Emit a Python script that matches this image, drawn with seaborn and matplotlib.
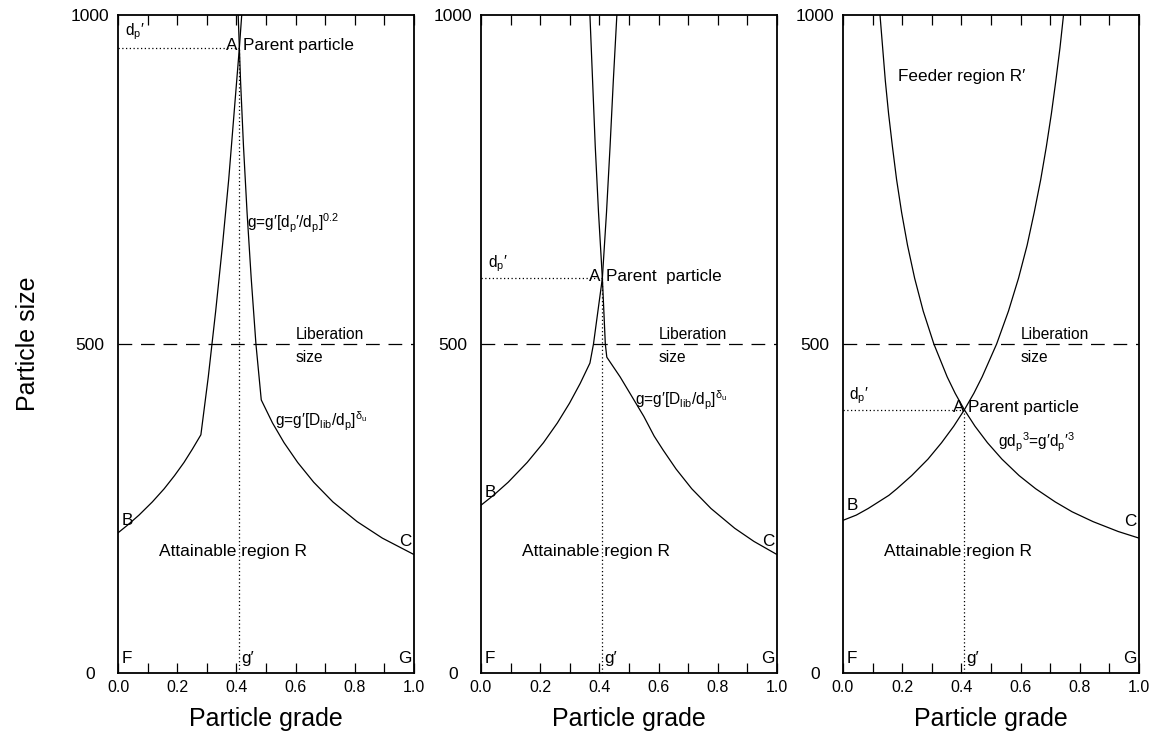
import matplotlib
matplotlib.use("Agg")
import matplotlib.pyplot as plt
import seaborn as sns
import numpy as np

sns.set_style("white")
plt.rcParams['font.family'] = ['Liberation Sans', 'DejaVu Sans']
plt.rcParams['mathtext.default'] = 'regular'
plt.rcParams['mathtext.fontset'] = 'custom'
plt.rcParams['mathtext.rm'] = 'Liberation Sans'
for k in ['text.color', 'axes.labelcolor', 'xtick.color', 'ytick.color', 'axes.edgecolor']:
    plt.rcParams[k] = 'black'

# ---------------- data ----------------
x_ticks = [0.0, 0.2, 0.4, 0.6, 0.8, 1.0]
x_tick_labels = ["0.0", "0.2", "0.4", "0.6", "0.8", "1.0"]
y_ticks = [0, 500, 1000]
y_tick_labels = ["0", "500", "1000"]
liberation_size = 500

# panel 1
p1_g_prime = 0.41
p1_dp_prime = 950
p1_left_dp = [1000, 950, 850, 750, 650, 550, 450, 362, 340, 320, 300, 280, 260, 240, 225, 213]
p1_left_g = [0.418, 0.410, 0.392, 0.374, 0.353, 0.330, 0.305, 0.280, 0.251, 0.223, 0.191,
             0.156, 0.116, 0.071, 0.033, 0.0]
p1_right_dp = [1000, 950, 900, 800, 700, 600, 500, 415, 380, 350, 320, 290, 260, 230, 205, 180]
p1_right_g = [0.406, 0.410, 0.414, 0.424, 0.436, 0.450, 0.466, 0.484, 0.522, 0.561, 0.607,
              0.661, 0.726, 0.808, 0.893, 1.0]

# panel 2
p2_g_prime = 0.41
p2_dp_prime = 600
p2_left_dp = [1000, 900, 800, 700, 600, 500, 471, 440, 410, 380, 350, 320, 290, 270, 255]
p2_left_g = [0.459, 0.447, 0.436, 0.424, 0.410, 0.380, 0.368, 0.335, 0.299, 0.258, 0.211,
             0.156, 0.092, 0.042, 0.0]
p2_right_dp = [1000, 900, 800, 700, 600, 500, 480, 450, 420, 390, 360, 339, 310, 280, 250,
               220, 200, 180]
p2_right_g = [0.368, 0.377, 0.386, 0.397, 0.410, 0.420, 0.425, 0.470, 0.510, 0.550, 0.585,
              0.615, 0.659, 0.712, 0.777, 0.857, 0.922, 1.0]

# panel 3
p3_g_prime = 0.41
p3_dp_prime = 400
p3_c_dp = [1000, 950, 900, 850, 800, 750, 700, 650, 600, 550, 500, 450, 425, 400, 375, 350,
           325, 300, 280, 260, 245, 230, 215, 205]
p3_c_g = [0.125, 0.134, 0.143, 0.154, 0.167, 0.181, 0.198, 0.218, 0.242, 0.271, 0.307, 0.352,
          0.379, 0.410, 0.446, 0.488, 0.537, 0.595, 0.651, 0.717, 0.774, 0.845, 0.930, 1.0]
p3_b_dp = [1000, 950, 900, 850, 800, 750, 700, 650, 600, 550, 500, 450, 425, 400, 375, 350,
           325, 300, 280, 270, 260, 250, 240, 232]
p3_b_g = [0.745, 0.733, 0.719, 0.704, 0.687, 0.668, 0.646, 0.622, 0.593, 0.559, 0.519, 0.470,
          0.442, 0.410, 0.374, 0.333, 0.287, 0.232, 0.182, 0.155, 0.120, 0.085, 0.045, 0.0]

# ---------------- figure ----------------
fig = plt.figure(figsize=(11.53, 7.36), dpi=100)
W, H = 1153, 736
lefts = [118, 481, 843]
ax_w, top, bottom = 296, 15, 673
axes = [fig.add_axes([l / W, (H - bottom) / H, ax_w / W, (bottom - top) / H]) for l in lefts]

LW = 0.9
dot = (0, (1, 2))
FS_TXT = 12.3
FS_SMALL = 11.2

def setup(ax, first):
    ax.set_xlim(0, 1)
    ax.set_ylim(0, 1000)
    ax.set_xticks(x_ticks)
    ax.set_xticklabels(x_tick_labels, fontsize=11.5)
    ax.set_xticks(np.round(np.arange(0.1, 1.0, 0.2), 1), minor=True)
    ax.tick_params(axis='x', which='both', direction='in', length=7, width=0.9,
                   top=True, bottom=True, pad=5, colors='black')
    ax.set_yticks(y_ticks)
    ax.set_yticklabels(y_tick_labels, fontsize=12.5)
    ax.tick_params(axis='y', length=0, pad=20)
    for lab in ax.get_yticklabels():
        lab.set_horizontalalignment('center')
    for s in ax.spines.values():
        s.set_linewidth(1.3)
        s.set_color('black')
        s.set_visible(True)
    ax.set_xlabel("Particle grade", fontsize=18, labelpad=9)
    if first:
        ax.set_ylabel("Particle size", fontsize=18, labelpad=22)
    else:
        ax.set_ylabel("")
    ax.axhline(liberation_size, color='black', lw=0.9, ls=(0, (11, 7)))


def curve(ax, g, dp):
    sns.lineplot(x=g, y=dp, ax=ax, sort=False, estimator=None, color='black', lw=LW)


def marker_lines(ax, gp, dpp):
    ax.plot([0, gp], [dpp, dpp], color='black', lw=0.9, ls=dot)
    ax.plot([gp, gp], [0, dpp], color='black', lw=0.9, ls=dot)


def corner_labels(ax, gp, b_dp, c_dp, fs=FS_TXT):
    ax.text(0.012, b_dp, "B", fontsize=fs, va='center', ha='left')
    ax.text(0.993, c_dp, "C", fontsize=fs, va='center', ha='right')
    ax.text(0.012, 22, "F", fontsize=fs, va='center', ha='left')
    ax.text(0.993, 22, "G", fontsize=fs, va='center', ha='right')
    ax.text(gp + 0.005, 22, "g′", fontsize=fs, va='center', ha='left')
    ax.text(0.39, 184, "Attainable region R", fontsize=FS_TXT + 0.2, va='center', ha='center')


def liberation(ax):
    ax.text(0.60, 514, "Liberation", fontsize=FS_SMALL, va='center', ha='left')
    ax.text(0.60, 480, "size", fontsize=FS_SMALL, va='center', ha='left')

# panel 1
ax = axes[0]
setup(ax, True)
curve(ax, p1_left_g, p1_left_dp)
curve(ax, p1_right_g, p1_right_dp)
marker_lines(ax, p1_g_prime, p1_dp_prime)
ax.text(0.025, 975, "d$_p$′", fontsize=FS_SMALL, va='center', ha='left')
ax.text(p1_g_prime - 0.045, 953, "A", fontsize=FS_TXT, va='center', ha='left')
ax.text(p1_g_prime + 0.012, 953, "Parent particle", fontsize=FS_TXT, va='center', ha='left')
ax.text(0.437, 683, "g=g′[d$_p$′/d$_p$]$^{0.2}$", fontsize=FS_SMALL, va='center', ha='left')
ax.text(0.53, 382, "g=g′[D$_{lib}$/d$_p$]$^{δ_u}$", fontsize=FS_SMALL, va='center', ha='left')
liberation(ax)
corner_labels(ax, p1_g_prime, 232, 200)

# panel 2
ax = axes[1]
setup(ax, False)
curve(ax, p2_left_g, p2_left_dp)
curve(ax, p2_right_g, p2_right_dp)
marker_lines(ax, p2_g_prime, p2_dp_prime)
ax.text(0.025, 622, "d$_p$′", fontsize=FS_SMALL, va='center', ha='left')
ax.text(p2_g_prime - 0.045, 603, "A", fontsize=FS_TXT, va='center', ha='left')
ax.text(p2_g_prime + 0.012, 603, "Parent  particle", fontsize=FS_TXT, va='center', ha='left')
ax.text(0.52, 415, "g=g′[D$_{lib}$/d$_p$]$^{δ_u}$", fontsize=FS_SMALL, va='center', ha='left')
liberation(ax)
corner_labels(ax, p2_g_prime, 275, 200)

# panel 3
ax = axes[2]
setup(ax, False)
curve(ax, p3_c_g, p3_c_dp)
curve(ax, p3_b_g, p3_b_dp)
marker_lines(ax, p3_g_prime, p3_dp_prime)
ax.text(0.02, 422, "d$_p$′", fontsize=FS_SMALL, va='center', ha='left')
ax.text(p3_g_prime - 0.04, 403, "A", fontsize=FS_TXT, va='center', ha='left')
ax.text(p3_g_prime + 0.012, 403, "Parent particle", fontsize=FS_TXT, va='center', ha='left')
ax.text(0.525, 350, "gd$_p$$^3$=g′d$_p$′$^3$", fontsize=FS_SMALL, va='center', ha='left')
ax.text(0.186, 906, "Feeder region R′", fontsize=FS_TXT, va='center', ha='left')
liberation(ax)
corner_labels(ax, p3_g_prime, 255, 230)

fig.savefig("out.png", dpi=100)
